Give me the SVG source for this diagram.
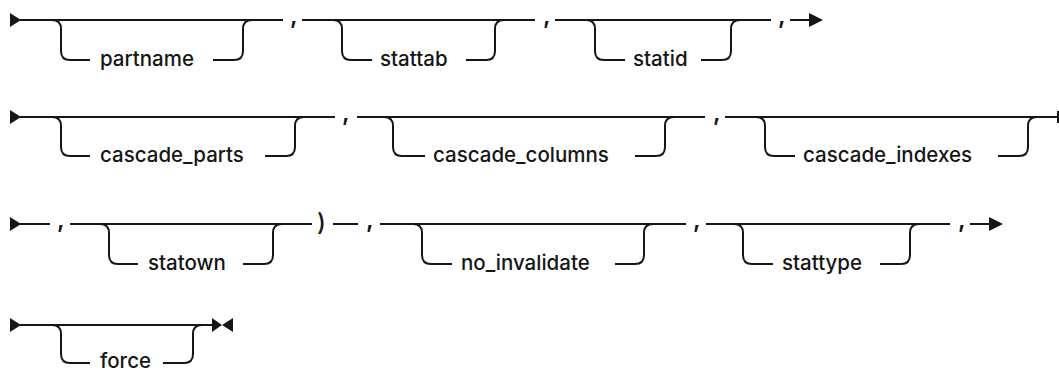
<svg xmlns="http://www.w3.org/2000/svg" width="1059" height="371" viewBox="0 0 1059 371">
<style>
.ln{fill:none;stroke:#161616;stroke-width:2}
.ah{fill:#161616;stroke:none}
.lb{font-family:Inter,"Liberation Sans",sans-serif;font-size:20.5px;font-weight:500;fill:#161616}
.pn{font-family:Inter,"Liberation Sans",sans-serif;font-size:24px;font-weight:600;fill:#161616}
</style>
<rect width="1059" height="371" fill="#fff"/>
<g id="connectors">
<!-- row 1 -->
<path class="ah" d="M10,13 L21,20 L10,27 Z"/>
<path class="ln" d="M20,20 H283 M302,20 H535 M555,20 H771 M790,20 H812"/>
<path class="ah" d="M809,13 L823,20 L809,27 Z"/>
<!-- row 2 -->
<path class="ah" d="M10,110 L21,117 L10,124 Z"/>
<path class="ln" d="M20,117 H335 M357,117 H705 M725,117 H1058 M1058,111 V123"/>
<!-- row 3 -->
<path class="ah" d="M10,217 L21,224 L10,231 Z"/>
<path class="ln" d="M20,224 H50 M70,224 H312 M333,224 H358 M380,224 H686 M706,224 H950 M970,224 H992"/>
<path class="ah" d="M989,217 L1003,224 L989,231 Z"/>
<!-- row 4 -->
<path class="ah" d="M10,318 L21,325 L10,332 Z"/>
<path class="ln" d="M20,325 H214"/>
<path class="ah" d="M212,318 L222,325 L212,332 Z M233,318 L222,325 L233,332 Z"/>
</g>
<g id="partname">
<path class="ln" d="M52,20 Q61,20 61,29 V51 Q61,60 70,60 H90 M213,60 H234 Q243,60 243,51 V29 Q243,20 252,20"/>
<text class="lb" x="100" y="66">partname</text>
</g>
<g id="comma1"><text class="pn" x="290" y="24">,</text></g>
<g id="stattab">
<path class="ln" d="M333,20 Q342,20 342,29 V51 Q342,60 351,60 H372 M466,60 H486 Q495,60 495,51 V29 Q495,20 504,20"/>
<text class="lb" x="380" y="66">stattab</text>
</g>
<g id="comma2"><text class="pn" x="543" y="24">,</text></g>
<g id="statid">
<path class="ln" d="M586,20 Q595,20 595,29 V51 Q595,60 604,60 H625 M701,60 H722 Q731,60 731,51 V29 Q731,20 740,20"/>
<text class="lb" x="633" y="66">statid</text>
</g>
<g id="comma3"><text class="pn" x="778" y="24">,</text></g>

<g id="cascade_parts">
<path class="ln" d="M52,117 Q61,117 61,126 V147 Q61,156 70,156 H90 M265,156 H286 Q295,156 295,147 V126 Q295,117 304,117"/>
<text class="lb" x="100" y="162">cascade_parts</text>
</g>
<g id="comma4"><text class="pn" x="342" y="121">,</text></g>
<g id="cascade_columns">
<path class="ln" d="M384,117 Q393,117 393,126 V147 Q393,156 402,156 H425 M635,156 H656 Q665,156 665,147 V126 Q665,117 674,117"/>
<text class="lb" x="433" y="162">cascade_columns</text>
</g>
<g id="comma5"><text class="pn" x="713" y="121">,</text></g>
<g id="cascade_indexes">
<path class="ln" d="M756,117 Q765,117 765,126 V147 Q765,156 774,156 H795 M998,156 H1019 Q1028,156 1028,147 V126 Q1028,117 1037,117"/>
<text class="lb" x="803" y="162">cascade_indexes</text>
</g>

<g id="comma6"><text class="pn" x="57" y="228">,</text></g>
<g id="statown">
<path class="ln" d="M100,224 Q109,224 109,233 V255 Q109,264 118,264 H138 M243,264 H264 Q273,264 273,255 V233 Q273,224 282,224"/>
<text class="lb" x="148" y="270">statown</text>
</g>
<g id="paren"><text class="pn" x="317" y="231" style="font-weight:500">)</text></g>
<g id="comma7"><text class="pn" x="366" y="228">,</text></g>
<g id="no_invalidate">
<path class="ln" d="M413,224 Q422,224 422,233 V255 Q422,264 431,264 H452 M615,264 H635 Q644,264 644,255 V233 Q644,224 653,224"/>
<text class="lb" x="461" y="270">no_invalidate</text>
</g>
<g id="comma8"><text class="pn" x="693" y="228">,</text></g>
<g id="stattype">
<path class="ln" d="M734,224 Q743,224 743,233 V255 Q743,264 752,264 H773 M880,264 H901 Q910,264 910,255 V233 Q910,224 919,224"/>
<text class="lb" x="782" y="270">stattype</text>
</g>
<g id="comma9"><text class="pn" x="958" y="228">,</text></g>

<g id="force">
<path class="ln" d="M52,325 Q61,325 61,334 V354 Q61,363 70,363 H90 M163,363 H184 Q193,363 193,354 V334 Q193,325 202,325"/>
<text class="lb" x="100" y="368">force</text>
</g>
</svg>
